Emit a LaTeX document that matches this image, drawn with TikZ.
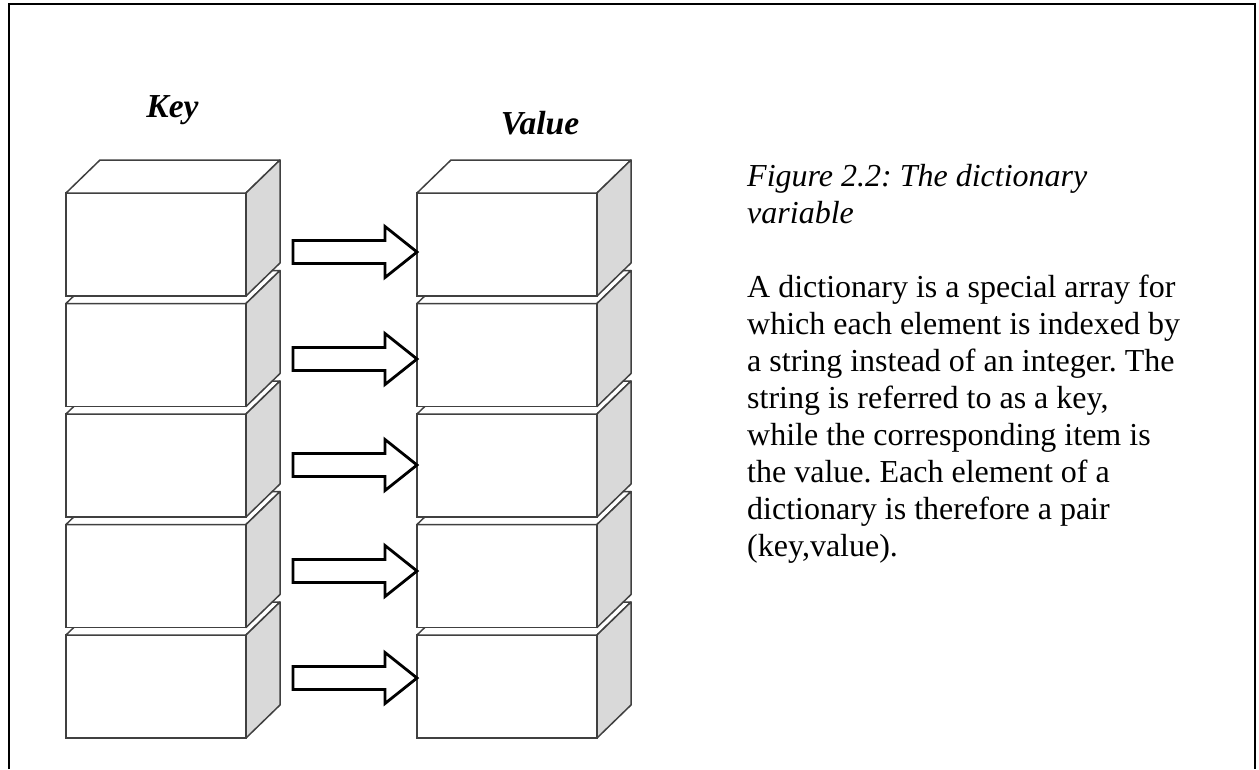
\documentclass[tikz,border=0pt]{standalone}
\usepackage{fontspec}
\setmainfont{Liberation Serif}
\usetikzlibrary{calc}
\frenchspacing
\definecolor{boxline}{gray}{0.25}
\definecolor{sideg}{gray}{0.85}
\tikzset{
  frontface/.style={draw=boxline, line width=1.5pt, fill=white, minimum width=180pt, minimum height=103pt, inner sep=0pt, outer sep=0pt},
  topface/.style={draw=boxline, line width=1.5pt, fill=white, line join=round},
  sideface/.style={draw=boxline, line width=1.5pt, fill=sideg, line join=round},
  blockarr/.style={draw=black, line width=2.8pt, fill=white, line join=miter},
  hdr/.style={font=\fontsize{33.5}{38}\selectfont\bfseries\itshape, anchor=base, inner sep=0pt},
  captext/.style={font=\fontsize{32}{37}\selectfont\itshape\frenchspacing, align=left, anchor=north west, inner sep=0pt},
  bodytext/.style={font=\fontsize{32}{37}\selectfont\frenchspacing, align=left, anchor=north west, inner sep=0pt},
  frame/.style={draw=black, line width=2.8pt},
}
\newcommand\stackbox[3]{%
  \node[frontface, anchor=north west] (#1) at (#2,#3) {};
  \filldraw[topface] (#1.north west) -- ++(34,33) -- ++(180,0) -- (#1.north east) -- cycle;
  \filldraw[sideface] (#1.north east) -- ++(34,33) -- ++(0,-103) -- (#1.south east) -- cycle;
}
\newcommand\blockarrow[2]{% target node, row coordinate
  \draw[blockarr] (#1.west |- #2) -- ++(-32,25.5) -- ++(0,-14) -- ++(-92,0) -- ++(0,-23) -- ++(92,0) -- ++(0,-14) -- cycle;
}
\begin{document}
\begin{tikzpicture}[x=1pt,y=1pt]
\useasboundingbox (0,0) rectangle (1259,-769);
\fill[white] (0,0) rectangle (1259,-769);
% frame (open at the bottom)
\draw[frame] (9,-769) -- (9,-4) -- (1255,-4) -- (1255,-769);
% headers
\node[hdr] (khead) at (172.5,-117.5) {Key};
\node[hdr] (vhead) at (540,-134.5) {Value};
% key column, drawn from bottom to top
\stackbox{k5}{66}{-635}
\stackbox{k4}{66}{-524.5}
\stackbox{k3}{66}{-414}
\stackbox{k2}{66}{-303.5}
\stackbox{k1}{66}{-193}
% value column
\stackbox{v5}{417}{-635}
\stackbox{v4}{417}{-524.5}
\stackbox{v3}{417}{-414}
\stackbox{v2}{417}{-303.5}
\stackbox{v1}{417}{-193}
% arrow rows
\coordinate (r1) at (0,-252);
\coordinate (r2) at (0,-359);
\coordinate (r3) at (0,-465);
\coordinate (r4) at (0,-571);
\coordinate (r5) at (0,-678);
\blockarrow{v1}{r1}
\blockarrow{v2}{r2}
\blockarrow{v3}{r3}
\blockarrow{v4}{r4}
\blockarrow{v5}{r5}
% caption and description
\node[captext] (cap) at (747,-164) {Figure 2.2: The dictionary\\variable};
\node[bodytext] (body) at (747,-274.5) {A dictionary is a special array for\\which each element is indexed by\\a string instead of an integer. The\\string is referred to as a key,\\while the corresponding item is\\the value. Each element of a\\dictionary is therefore a pair\\(key,value).};
\end{tikzpicture}
\end{document}
